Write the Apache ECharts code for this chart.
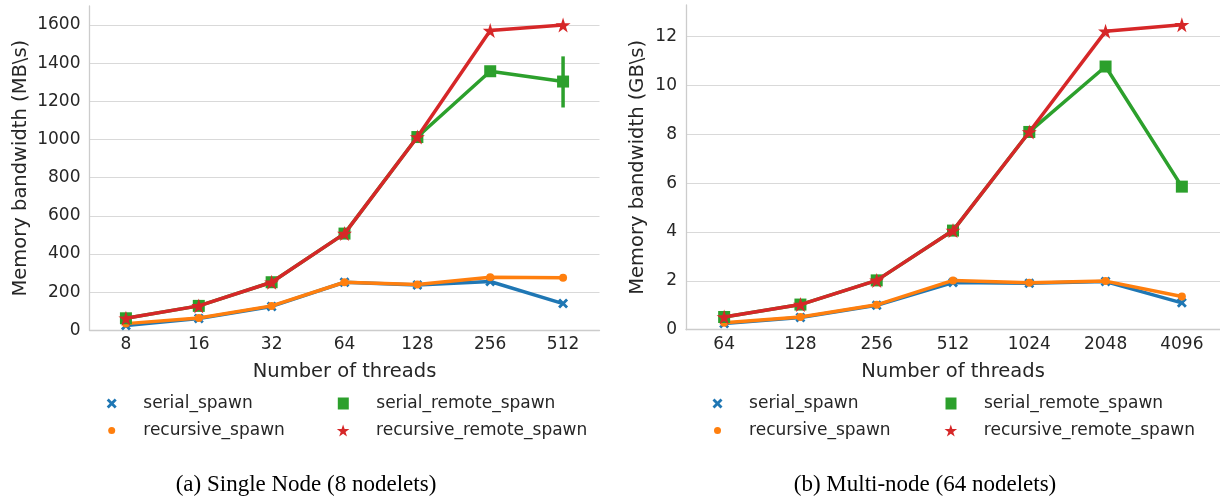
<!DOCTYPE html>
<html>
<head>
<meta charset="utf-8">
<script src="https://cdn.jsdelivr.net/npm/echarts@6/dist/echarts.min.js"></script>
<style>
html,body{margin:0;padding:0;background:#fff;}
#chart{width:1220px;height:499px;}
</style>
</head>
<body>
<div id="chart"></div>
<script>
// ---------- data ----------
const seriesNames = ['serial_spawn', 'recursive_spawn', 'serial_remote_spawn', 'recursive_remote_spawn'];

const singleCategories = ['8', '16', '32', '64', '128', '256', '512'];
const singleSerial = [25, 62, 125, 252, 238, 256, 140];
const singleRecursive = [35, 65, 128, 252, 240, 278, 275];
const singleSerialRemote = [63, 128, 252, 507, 1013, 1358, 1304];
const singleRecursiveRemote = [63, 128, 252, 507, 1013, 1571, 1600];
const singleSerialRemoteErrLow = [null, null, null, null, null, null, 1168];
const singleSerialRemoteErrHigh = [null, null, null, null, null, null, 1436];
const singleYTicks = [0, 200, 400, 600, 800, 1000, 1200, 1400, 1600];

const multiCategories = ['64', '128', '256', '512', '1024', '2048', '4096'];
const multiSerial = [0.25, 0.5, 1.0, 1.93, 1.9, 1.97, 1.1];
const multiRecursive = [0.28, 0.52, 1.02, 2.02, 1.92, 1.99, 1.36];
const multiSerialRemote = [0.52, 1.03, 2.02, 4.06, 8.1, 10.78, 5.86];
const multiRecursiveRemote = [0.52, 1.03, 2.02, 4.06, 8.1, 12.22, 12.49];
const multiYTicks = [0, 2, 4, 6, 8, 10, 12];

const captions = ['(a) Single Node (8 nodelets)', '(b) Multi-node (64 nodelets)'];
const yNames = ['Memory bandwidth (MB\\s)', 'Memory bandwidth (GB\\s)'];
const xName = 'Number of threads';

// ---------- styles ----------
const colors = ['#1f77b4', '#ff7f0e', '#2ca02c', '#d62728'];
const X_PATH = 'path://M2,0 L5,3 L8,0 L10,2 L7,5 L10,8 L8,10 L5,7 L2,10 L0,8 L3,5 L0,2 Z';
const STAR_PATH = 'path://M50,0 L61.23,34.55 L97.55,34.55 L68.16,55.9 L79.39,90.45 L50,69.1 L20.61,90.45 L31.84,55.9 L2.45,34.55 L38.77,34.55 Z';
const symbols = [X_PATH, 'circle', 'rect', STAR_PATH];
const symbolSizes = [10, 8, 12, 15];
const legendSizes = [[10, 10], [7, 7], [11, 12], [13, 12]];
const textColor = '#262626';
const font = 'DejaVu Sans';

function yAxisCfg(gridIndex, max, interval, name, nameGap, ticks) {
  return {
    type: 'value', gridIndex: gridIndex, min: 0, max: max, interval: interval,
    name: name, nameLocation: 'middle', nameGap: nameGap,
    nameTextStyle: {fontSize: 19.5, color: textColor, fontFamily: font},
    axisLine: {show: true, lineStyle: {color: '#cccccc', width: 1.3}},
    axisTick: {show: false},
    axisLabel: {fontSize: 17, color: textColor, fontFamily: font, margin: 9, showMaxLabel: false, showMinLabel: true,
                formatter: function (v) { return ticks.indexOf(v) >= 0 ? String(v) : ''; }},
    splitLine: {show: true, showMaxLine: false, lineStyle: {color: '#d9d9d9', width: 1}}
  };
}
function xAxisCfg(gridIndex, cats) {
  return {
    type: 'category', gridIndex: gridIndex, data: cats, boundaryGap: true,
    name: xName, nameLocation: 'middle', nameGap: 32,
    nameTextStyle: {fontSize: 19.5, color: textColor, fontFamily: font},
    axisLine: {show: true, lineStyle: {color: '#cccccc', width: 1.3}},
    axisTick: {show: false},
    axisLabel: {fontSize: 17, color: textColor, fontFamily: font, margin: 6, interval: 0},
    splitLine: {show: false}
  };
}
function lineSeries(idx, gridIdx, data) {
  return {
    type: 'line', name: seriesNames[idx], xAxisIndex: gridIdx, yAxisIndex: gridIdx,
    data: data, symbol: symbols[idx], symbolSize: symbolSizes[idx], showSymbol: true,
    clip: false, z: 2 + idx,
    lineStyle: {color: colors[idx], width: 3.5},
    itemStyle: {color: colors[idx], borderWidth: 0},
    emphasis: {disabled: true}
  };
}
function errSeries(gridIdx, idx, lows, highs) {
  const d = [];
  for (let i = 0; i < lows.length; i++) {
    if (lows[i] != null && highs[i] != null) d.push([i, lows[i], highs[i]]);
  }
  return {
    type: 'custom', name: seriesNames[idx], xAxisIndex: gridIdx, yAxisIndex: gridIdx, z: 2 + idx,
    data: d, clip: false,
    renderItem: function (params, api) {
      const p1 = api.coord([api.value(0), api.value(1)]);
      const p2 = api.coord([api.value(0), api.value(2)]);
      return {type: 'line', shape: {x1: p1[0], y1: p1[1], x2: p2[0], y2: p2[1]},
              style: {stroke: colors[idx], lineWidth: 3.5}};
    }
  };
}
function legendItem(idx, cx, cy, textX) {
  const w = legendSizes[idx][0], h = legendSizes[idx][1];
  return {
    data: [{name: seriesNames[idx], icon: symbols[idx]}],
    left: cx - w / 2, top: cy - 10, padding: 0,
    itemWidth: w, itemHeight: h, selectedMode: false,
    textStyle: {fontSize: 17, color: textColor, fontFamily: font, lineHeight: 20,
                padding: [0, 0, 0, textX - (cx + w / 2 + 5)]}
  };
}

const legends = [];
[[111.7, 343.3], [717.5, 951]].forEach(function (cols) {
  legends.push(legendItem(0, cols[0], 403.5, cols[0] + 31.6));
  legends.push(legendItem(1, cols[0], 430.5, cols[0] + 31.6));
  legends.push(legendItem(2, cols[1], 403.5, cols[1] + 33));
  legends.push(legendItem(3, cols[1], 430.5, cols[1] + 33));
});

const option = {
  animation: false,
  backgroundColor: '#ffffff',
  title: [
    {text: captions[0], left: 306, top: 484.5, padding: 0, textAlign: 'center', textVerticalAlign: 'middle',
     textStyle: {fontFamily: 'Liberation Serif', fontSize: 23, fontWeight: 'normal', color: '#000'}},
    {text: captions[1], left: 925, top: 484.5, padding: 0, textAlign: 'center', textVerticalAlign: 'middle',
     textStyle: {fontFamily: 'Liberation Serif', fontSize: 23, fontWeight: 'normal', color: '#000'}}
  ],
  legend: legends,
  grid: [
    {left: 89.5, top: 6, width: 510, height: 324.3, outerBoundsMode: 'none', containLabel: false},
    {left: 686, top: 5, width: 534, height: 324.7, outerBoundsMode: 'none', containLabel: false}
  ],
  xAxis: [xAxisCfg(0, singleCategories), xAxisCfg(1, multiCategories)],
  yAxis: [yAxisCfg(0, 1700, 200, yNames[0], 59, singleYTicks), yAxisCfg(1, 13.3, 2, yNames[1], 38, multiYTicks)],
  series: [
    lineSeries(0, 0, singleSerial),
    lineSeries(1, 0, singleRecursive),
    lineSeries(2, 0, singleSerialRemote),
    errSeries(0, 2, singleSerialRemoteErrLow, singleSerialRemoteErrHigh),
    lineSeries(3, 0, singleRecursiveRemote),
    lineSeries(0, 1, multiSerial),
    lineSeries(1, 1, multiRecursive),
    lineSeries(2, 1, multiSerialRemote),
    lineSeries(3, 1, multiRecursiveRemote)
  ]
};
const chart = echarts.init(document.getElementById('chart'), null, {renderer: 'canvas'});
chart.setOption(option);
</script>
</body>
</html>
